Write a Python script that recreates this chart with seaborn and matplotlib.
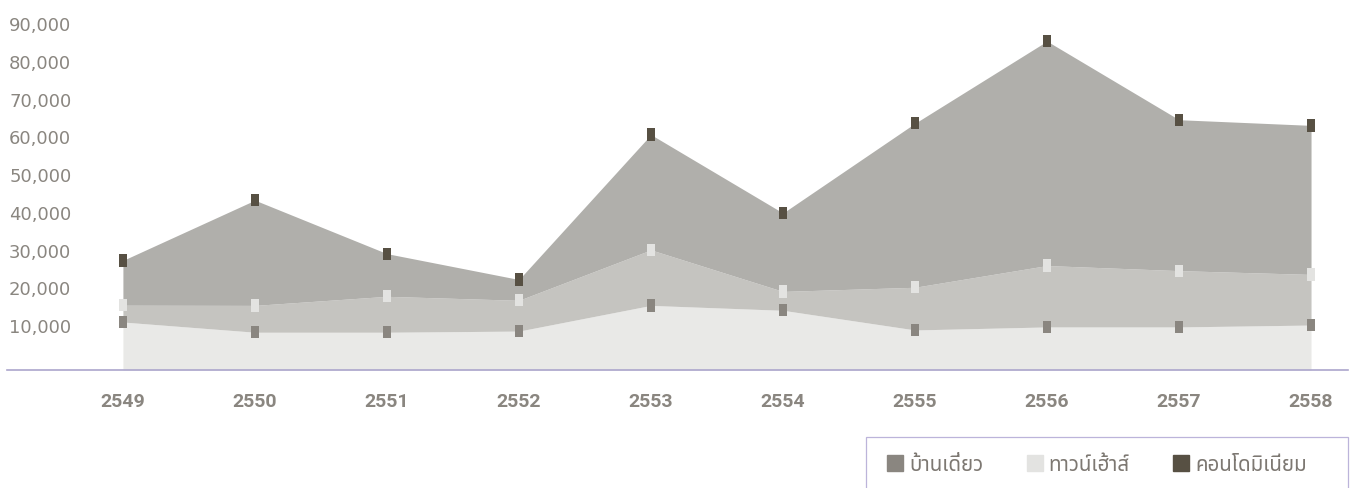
import numpy as np
import pandas as pd
import matplotlib
matplotlib.use('Agg')
import matplotlib.pyplot as plt
import seaborn as sns
from matplotlib.lines import Line2D
from matplotlib.patches import Rectangle

# yearly figures (units)
YEARS = [2549, 2550, 2551, 2552, 2553, 2554, 2555, 2556, 2557, 2558]
HOUSE = [12700, 10000, 10000, 10300, 17100, 15800, 10600, 11400, 11400, 11900]
TOWN = [4450, 7100, 9500, 8150, 14700, 5000, 11300, 16250, 14900, 13400]
CONDO = [11850, 27850, 11300, 5500, 30500, 20750, 43400, 59400, 39950, 39450]
LABELS = ['บ้านเดี่ยว', 'ทาวน์เฮ้าส์', 'คอนโดมิเนียม']
YTICKS = [10000, 20000, 30000, 40000, 50000, 60000, 70000, 80000, 90000]

AREA_COLORS = ['#e9e9e7', '#c5c4c0', '#b0afab']
MARK_COLORS = ['#8a8680', '#e3e3e1', '#575043']
TEXT = '#8a8680'

THAI = ['Noto Sans Thai', 'Noto Sans Thai Looped', 'Sarabun', 'Loma', 'Garuda',
        'Waree', 'Tlwg Typo', 'Norasi', 'Noto Sans', 'DejaVu Sans']

sns.set_theme(style='white')
plt.rcParams['font.family'] = THAI

df = pd.DataFrame({'year': YEARS, 'house': HOUSE, 'town': TOWN, 'condo': CONDO})
df['house_top'] = df.house
df['town_top'] = df.house + df.town
df['condo_top'] = df.town_top + df.condo

fig = plt.figure(figsize=(13.54, 4.89), dpi=100)
ax = fig.add_axes([7 / 1354, 118 / 489, 1341 / 1354, 371 / 489])

ax.stackplot(df.year, df.house, df.town, df.condo, colors=AREA_COLORS,
             linewidth=0, zorder=1)

rect = [(-0.33, -0.5), (0.33, -0.5), (0.33, 0.5), (-0.33, 0.5), (-0.33, -0.5)]
for col, c in zip(['house_top', 'town_top', 'condo_top'], MARK_COLORS):
    sns.scatterplot(data=df, x='year', y=col, marker=rect, s=78, color=c,
                    edgecolor='none', linewidth=0, ax=ax, zorder=3)

ax.set_xlim(2548.122, 2558.28)
ax.set_ylim(0, 98200)
ax.set_xlabel('')
ax.set_ylabel('')
ax.grid(False)

ax.set_xticks(YEARS)
ax.set_xticklabels([str(y) for y in YEARS], fontfamily='Roboto',
                   fontweight='bold', fontsize=14, color=TEXT)
ax.tick_params(axis='x', length=0, pad=16)

ax.set_yticks(YTICKS)
ax.set_yticklabels([f'{v:,}' for v in YTICKS], fontfamily='DejaVu Sans',
                   fontsize=13, color=TEXT)
ax.tick_params(axis='y', length=0, pad=-1.5)
for t in ax.get_yticklabels():
    t.set_horizontalalignment('left')
    t.set_verticalalignment('baseline')

for s in ['top', 'right', 'left']:
    ax.spines[s].set_visible(False)
ax.spines['bottom'].set_color('#aca6cc')
ax.spines['bottom'].set_linewidth(1.2)

handles = [Line2D([], [], marker='s', linestyle='', color=c, markersize=11.5)
           for c in MARK_COLORS]
fig.legend(handles, LABELS, loc='center left',
           bbox_to_anchor=(887 / 1354, 1 - 466 / 489), ncol=3, frameon=False,
           borderpad=0, borderaxespad=0, handlelength=0.78, handletextpad=0.3,
           columnspacing=2.1, prop={'size': 14.8}, labelcolor='#7d7872')
fig.add_artist(Rectangle((866 / 1354, -0.05), 482 / 1354, 51 / 489 + 0.05,
                         transform=fig.transFigure, fill=False,
                         edgecolor='#bcb4da', linewidth=0.9))

fig.savefig('out.png', dpi=100)
